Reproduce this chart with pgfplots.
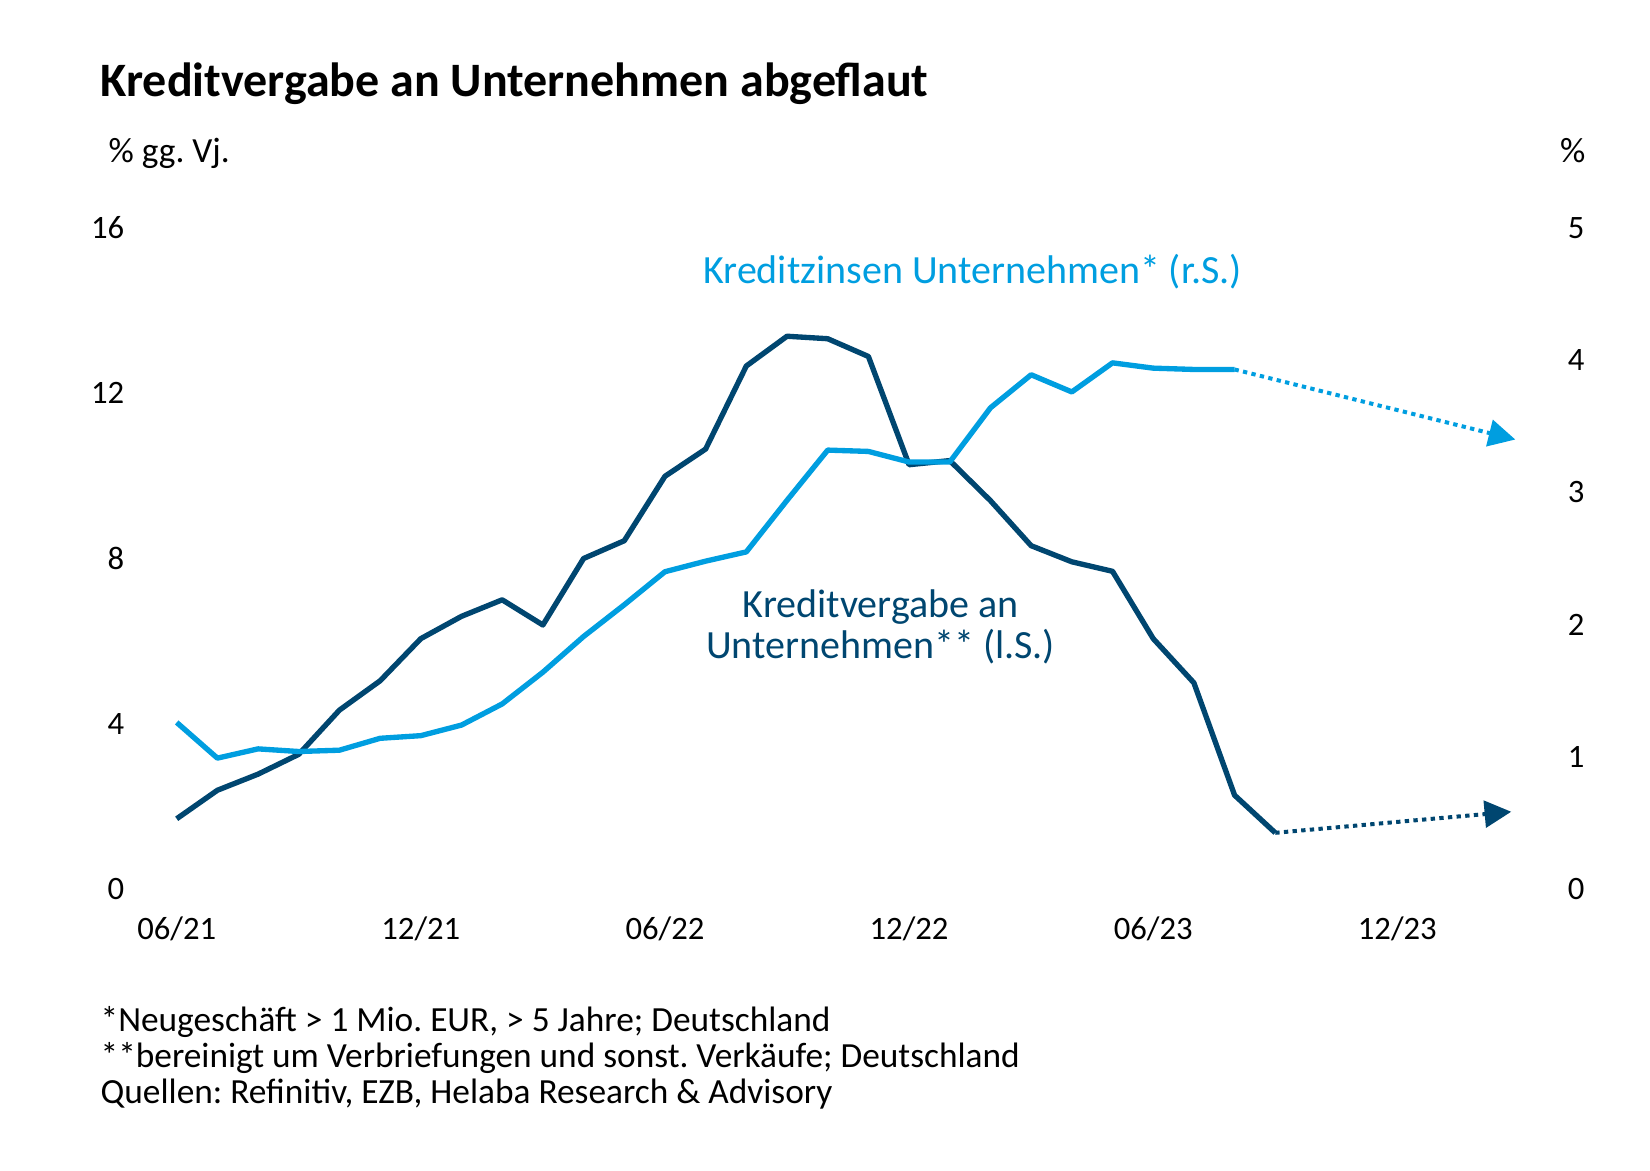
\documentclass[border=0pt]{standalone}
\usepackage{pgfplots}
\pgfplotsset{compat=1.18}
\usepackage{fontspec}
\setmainfont{Carlito}
\usetikzlibrary{arrows.meta}
\definecolor{dunkel}{RGB}{0,70,112}
\definecolor{hell}{RGB}{0,158,224}
\frenchspacing
\begin{document}
\begin{tikzpicture}
\useasboundingbox (-40.8pt,-84.3pt) rectangle (454.2pt,266.7pt);
\pgfplotsset{
  base/.style={
    at={(0,0)}, anchor=south west,
    scale only axis, width=426pt, height=198.3pt,
    xmin=-1, xmax=33.9,
    axis line style={draw=none},
    tick style={draw=none},
    /pgf/number format/assume math mode=true,
    ticklabel style={font=\fontsize{9.8}{11}\selectfont},
    clip=false,
  }
}
\begin{axis}[base,
  axis y line*=left, axis x line*=bottom,
  ymin=0, ymax=16, ytick={0,4,8,12,16},
  xtick={0,6,12,18,24,30},
  xticklabels={06/21,12/21,06/22,12/22,06/23,12/23},
  xticklabel style={anchor=base, yshift=-15pt},
]
\addplot[dunkel, line width=1.6pt, line join=round] coordinates {
(0,1.70) (1,2.39) (2,2.78) (3,3.26) (4,4.33) (5,5.04) (6,6.06) (7,6.60)
(8,7.00) (9,6.39) (10,8.00) (11,8.43) (12,9.99) (13,10.65) (14,12.66)
(15,13.38) (16,13.32) (17,12.89) (18,10.27) (19,10.37) (20,9.40) (21,8.31)
(22,7.92) (23,7.69) (24,6.06) (25,4.99) (26,2.27) (27,1.36)
};
\addplot[dunkel, line width=1.2pt, dash pattern=on 1.3pt off 1.3pt,
  -{Triangle[length=8pt,width=8pt]}] coordinates {(27,1.36) (32.8,1.87)};
\node[dunkel, anchor=base, font=\fontsize{12}{14}\selectfont] at (axis cs:17.3,6.56) {Kreditvergabe an};
\node[dunkel, anchor=base, font=\fontsize{12}{14}\selectfont] at (axis cs:17.3,5.59) {Unternehmen** (l.S.)};
\node[hell, anchor=base, font=\fontsize{12}{14}\selectfont] at (axis cs:19.56,14.65) {Kreditzinsen Unternehmen* (r.S.)};
\end{axis}
\begin{axis}[base,
  axis y line*=right, axis x line=none,
  ymin=0, ymax=5, ytick={0,1,2,3,4,5},
]
\addplot[hell, line width=1.6pt, line join=round] coordinates {
(0,1.26) (1,0.99) (2,1.06) (3,1.04) (4,1.05) (5,1.14) (6,1.16) (7,1.24)
(8,1.40) (9,1.64) (10,1.91) (11,2.15) (12,2.40) (13,2.48) (14,2.55)
(15,2.94) (16,3.32) (17,3.31) (18,3.23) (19,3.23) (20,3.64) (21,3.89)
(22,3.76) (23,3.98) (24,3.94) (25,3.93) (26,3.93)
};
\addplot[hell, line width=1.2pt, dash pattern=on 1.3pt off 1.3pt,
  -{Triangle[length=8pt,width=8pt]}] coordinates {(26,3.93) (32.9,3.40)};
\end{axis}
\node[anchor=base west, font=\bfseries\fontsize{14.4}{17}\selectfont, inner sep=0pt] at (-10.8pt,237.6pt) {Kreditvergabe an Unternehmen abgeflaut};
\node[anchor=base west, font=\fontsize{10.6}{12}\selectfont, inner sep=0pt] at (-8.4pt,217.8pt) {\% gg. Vj.};
\node[anchor=base, font=\fontsize{10.6}{12}\selectfont, inner sep=0pt] at (431pt,217.8pt) {\%};
\node[anchor=base west, font=\fontsize{10.6}{12}\selectfont, inner sep=0pt] at (-10.8pt,-42.6pt) {*Neugeschäft > 1 Mio. EUR, > 5 Jahre; Deutschland};
\node[anchor=base west, font=\fontsize{10.6}{12}\selectfont, inner sep=0pt] at (-10.8pt,-53.4pt) {**bereinigt um Verbriefungen und sonst. Verkäufe; Deutschland};
\node[anchor=base west, font=\fontsize{10.6}{12}\selectfont, inner sep=0pt] at (-10.8pt,-64.2pt) {Quellen: Refinitiv, EZB, Helaba Research \& Advisory};
\end{tikzpicture}
\end{document}
